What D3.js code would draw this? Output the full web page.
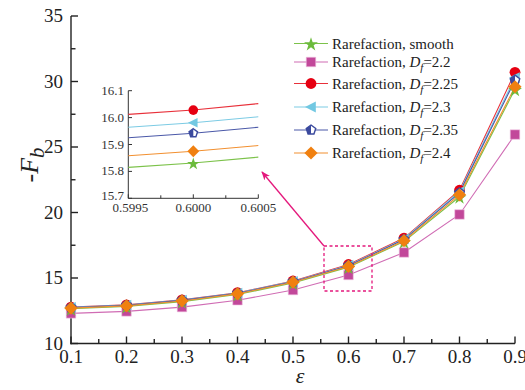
<!DOCTYPE html>
<html><head><meta charset="utf-8">
<script src="https://cdn.jsdelivr.net/npm/d3@7/dist/d3.min.js"></script>
<style>body{margin:0;background:#fff}svg{display:block}</style>
</head><body><svg id="c" width="525" height="390" font-family="'Liberation Serif','Times New Roman','DejaVu Serif',serif"></svg>
<script>
const eps = [0.1,0.2,0.3,0.4,0.5,0.6,0.7,0.8,0.9];
const smooth = [12.65,12.82,13.20,13.74,14.62,15.83,17.78,21.20,29.40];
const df22   = [12.30,12.45,12.78,13.30,14.08,15.23,16.95,19.85,25.95];
const df225  = [12.78,12.95,13.33,13.88,14.77,16.03,18.05,21.70,30.70];
const df23   = [12.76,12.93,13.31,13.85,14.74,15.98,17.98,21.60,30.30];
const df235  = [12.74,12.91,13.29,13.83,14.72,15.94,17.93,21.50,30.10];
const df24   = [12.70,12.87,13.25,13.79,14.68,15.88,17.85,21.35,29.60];
const yTicks = [10,15,20,25,30,35];
const xTicks = [0.1,0.2,0.3,0.4,0.5,0.6,0.7,0.8,0.9];
// inset (zoom around eps=0.6)
const insetX = [0.5995,0.6000,0.6005];
const inSmooth = [15.815,15.831,15.853];
const in225 = [16.012,16.028,16.052];
const in23  = [15.964,15.981,16.003];
const in235 = [15.925,15.942,15.964];
const in24  = [15.858,15.875,15.896];
const insetYTicks = [15.7,15.8,15.9,16.0,16.1];
const insetXTicks = [0.5995,0.6000,0.6005];
const labels = ["Rarefaction, smooth","Rarefaction, D_f=2.2","Rarefaction, D_f=2.25","Rarefaction, D_f=2.3","Rarefaction, D_f=2.35","Rarefaction, D_f=2.4"];

const series = [
 {name:labels[0], v:smooth, inset:inSmooth, color:"#6cbb3c", line:"#7cc24a", mk:"star"},
 {name:labels[1], v:df22, inset:null, color:"#c2489a", line:"#d06cb4", mk:"square"},
 {name:labels[2], v:df225, inset:in225, color:"#e60012", line:"#e8303a", mk:"circle"},
 {name:labels[3], v:df23, inset:in23, color:"#72c8e2", line:"#7ccbe4", mk:"tri"},
 {name:labels[4], v:df235, inset:in235, color:"#3b4a9e", line:"#4a58a8", mk:"pent"},
 {name:labels[5], v:df24, inset:in24, color:"#f08010", line:"#f29030", mk:"diamond"}
];

const svg = d3.select("#c");
const x = d3.scaleLinear().domain([0.1,0.9]).range([71,515]);
const y = d3.scaleLinear().domain([10,35]).range([343.5,16]);

function marker(g, type, cx, cy, color, s){
  s = s||1;
  if(type==="star"){
    g.append("path").attr("d", d3.symbol(d3.symbolStar, 60*s)()).attr("transform",`translate(${cx},${cy+1})`).attr("fill",color);
  } else if(type==="square"){
    g.append("path").attr("d", d3.symbol(d3.symbolSquare, 90*s)()).attr("transform",`translate(${cx},${cy})`).attr("fill",color).attr("stroke","#f0c0e0").attr("stroke-width",0.6);
  } else if(type==="circle"){
    g.append("circle").attr("cx",cx).attr("cy",cy).attr("r",5.4*Math.sqrt(s)).attr("fill",color);
  } else if(type==="tri"){
    const r=6*Math.sqrt(s);
    g.append("path").attr("d",`M${cx-r},${cy}L${cx+r*0.8},${cy-r*0.9}L${cx+r*0.8},${cy+r*0.9}Z`).attr("fill",color);
  } else if(type==="pent"){
    const r=5*Math.sqrt(s);
    const pts=d3.range(5).map(i=>{const a=-Math.PI/2+i*2*Math.PI/5;return [cx+r*Math.cos(a),cy+r*Math.sin(a)];});
    g.append("path").attr("d","M"+pts.join("L")+"Z").attr("fill","#fff").attr("stroke",color).attr("stroke-width",1.4);
    const left=[[cx,cy-r],pts[4],pts[3],[cx,pts[3][1]]];
    g.append("path").attr("d","M"+left.join("L")+"Z").attr("fill",color);
  } else if(type==="diamond"){
    const r=6.6*Math.sqrt(s);
    g.append("path").attr("d",`M${cx},${cy-r}L${cx+r},${cy}L${cx},${cy+r}L${cx-r},${cy}Z`).attr("fill",color);
  }
}

// Axes (main)
const ax = svg.append("g").attr("stroke","#222").attr("stroke-width",1.4);
ax.append("line").attr("x1",71).attr("x2",71).attr("y1",y(35)).attr("y2",y(10)+0.7);
ax.append("line").attr("x1",70.3).attr("x2",x(0.9)).attr("y1",y(10)).attr("y2",y(10));
d3.range(10,35.01,2.5).forEach(t=>{
  const major = Math.abs(t%5)<1e-6;
  ax.append("line").attr("x1",71).attr("x2",71+(major?7:4.5)).attr("y1",y(t)).attr("y2",y(t));
});
d3.range(0.1,0.901,0.05).forEach(t=>{
  const major = Math.abs(Math.round(t*100)%10)<1e-6;
  ax.append("line").attr("x1",x(t)).attr("x2",x(t)).attr("y1",y(10)).attr("y2",y(10)-(major?7:4.5));
});
svg.append("g").attr("fill","#222").selectAll("text").data(yTicks).join("text")
  .attr("x",63).attr("y",d=>y(d)+6).attr("text-anchor","end").attr("font-size",19).text(d=>d);
svg.append("g").attr("fill","#222").selectAll("text").data(xTicks).join("text")
  .attr("x",d=>x(d)).attr("y",363).attr("text-anchor","middle").attr("font-size",19).text(d=>d.toFixed(1));

// axis titles
const yl = svg.append("text").attr("fill","#222").attr("transform","translate(38,165) rotate(-90)").attr("text-anchor","middle").attr("font-size",26).attr("font-style","italic");
yl.append("tspan").attr("font-style","normal").text("-");
yl.append("tspan").text("F");
yl.append("tspan").attr("font-size",21).attr("dy",6).text("b");
svg.append("text").attr("fill","#222").attr("x",300).attr("y",383).attr("text-anchor","middle").attr("font-size",22).attr("font-style","italic").text("ε");

// main lines
const line = d3.line().x((d,i)=>x(eps[i])).y(d=>y(d));
const order=[1,0,2,3,4,5];
order.forEach(k=>{
  const s=series[k];
  svg.append("path").attr("d",line(s.v)).attr("fill","none").attr("stroke",s.line).attr("stroke-width",1.1);
});
order.forEach(k=>{
  const s=series[k];
  const g=svg.append("g");
  s.v.forEach((v,i)=>marker(g,s.mk,x(eps[i]),y(v),s.color));
});

// dashed box + arrow
const mag="#e4187c";
svg.append("rect").attr("x",324).attr("y",246).attr("width",48).attr("height",45)
  .attr("fill","none").attr("stroke",mag).attr("stroke-width",1.3).attr("stroke-dasharray","3,2.5");
svg.append("defs").append("marker").attr("id","ah").attr("viewBox","0 0 10 10").attr("refX",9).attr("refY",5)
  .attr("markerWidth",9).attr("markerHeight",9).attr("orient","auto").attr("markerUnits","userSpaceOnUse")
  .append("path").attr("d","M0,1L10,5L0,9L3,5Z").attr("fill",mag);
svg.append("line").attr("x1",324).attr("y1",246).attr("x2",262).attr("y2",172)
  .attr("stroke",mag).attr("stroke-width",1.3).attr("marker-end","url(#ah)");

// inset
const ix = d3.scaleLinear().domain([0.5995,0.6005]).range([128.3,258.3]);
const iy = d3.scaleLinear().domain([15.7,16.1]).range([198.3,90.7]);
const ia = svg.append("g").attr("stroke","#333").attr("stroke-width",1);
ia.append("line").attr("x1",128.3).attr("x2",128.3).attr("y1",iy(16.1)).attr("y2",iy(15.7));
ia.append("line").attr("x1",128.3).attr("x2",258.3).attr("y1",iy(15.7)).attr("y2",iy(15.7));
insetYTicks.forEach(t=>ia.append("line").attr("x1",128.3).attr("x2",132).attr("y1",iy(t)).attr("y2",iy(t)));
d3.range(0.5995,0.60051,0.00025).forEach((t,i)=>ia.append("line").attr("x1",ix(t)).attr("x2",ix(t)).attr("y1",iy(15.7)).attr("y2",iy(15.7)-(i%2===0?4:3)));
svg.append("g").attr("fill","#333").selectAll("text").data(insetYTicks).join("text")
  .attr("x",124).attr("y",d=>iy(d)+(d===15.7?2:4)).attr("text-anchor","end").attr("font-size",13).text(d=>d.toFixed(1));
svg.append("g").attr("fill","#333").selectAll("text").data(insetXTicks).join("text")
  .attr("x",d=>ix(d)+(d===0.5995?2:0)).attr("y",212).attr("text-anchor","middle").attr("font-size",13).text(d=>d.toFixed(4));
const iline = d3.line().x((d,i)=>ix(insetX[i])).y(d=>iy(d));
series.forEach(s=>{
  if(!s.inset) return;
  svg.append("path").attr("d",iline(s.inset)).attr("fill","none").attr("stroke",s.line).attr("stroke-width",1.1);
  marker(svg.append("g"),s.mk,ix(insetX[1]),iy(s.inset[1]),s.color,0.8);
});

// legend
const ly=[43.5,62,83.5,107,130,153];
series.forEach((s,i)=>{
  const g=svg.append("g");
  g.append("line").attr("x1",294).attr("x2",328).attr("y1",ly[i]).attr("y2",ly[i]).attr("stroke",s.line).attr("stroke-width",1.1);
  marker(g,s.mk,311,ly[i],s.color);
  const t=g.append("text").attr("fill","#222").attr("x",332).attr("y",ly[i]+5).attr("font-size",15);
  const parts=s.name.split("D_f");
  t.append("tspan").text(parts[0]);
  if(parts.length>1){
    t.append("tspan").attr("font-style","italic").text("D");
    t.append("tspan").attr("font-style","italic").attr("font-size",11).attr("dy",4).text("f");
    t.append("tspan").attr("dy",-4).text(parts[1]);
  }
});
</script></body></html>
